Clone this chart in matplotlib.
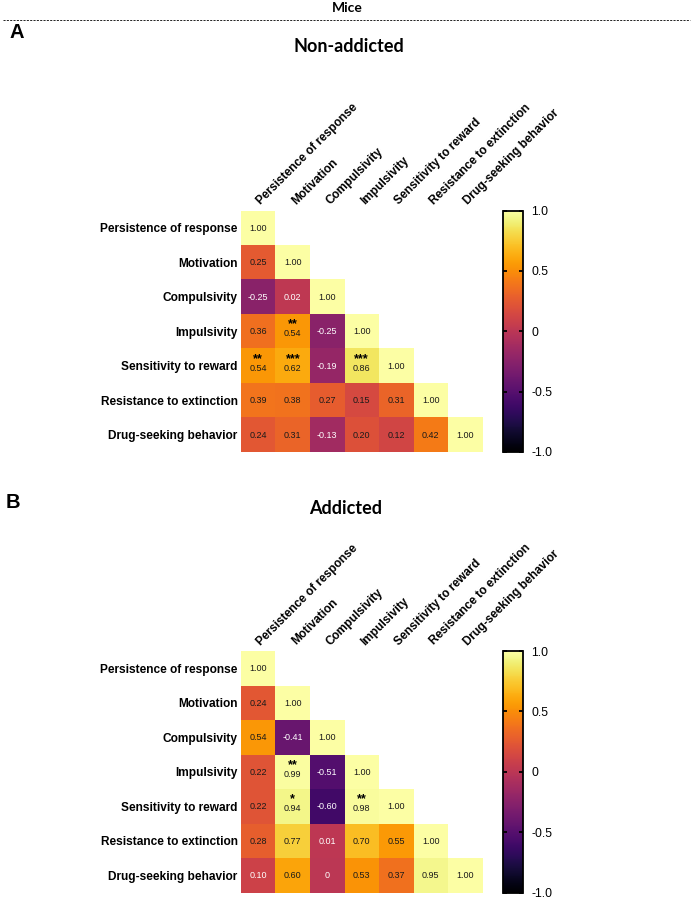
import numpy as np
import matplotlib
matplotlib.use('Agg')
import matplotlib.pyplot as plt
from matplotlib.lines import Line2D

# traits (rows / columns of both matrices)
traits = ['Persistence of response', 'Motivation', 'Compulsivity', 'Impulsivity',
          'Sensitivity to reward', 'Resistance to extinction', 'Drug-seeking behavior']

# lower triangle of the correlation matrices, row by row
nonaddicted_r = [[1.00],
                 [0.25, 1.00],
                 [-0.25, 0.02, 1.00],
                 [0.36, 0.54, -0.25, 1.00],
                 [0.54, 0.62, -0.19, 0.86, 1.00],
                 [0.39, 0.38, 0.27, 0.15, 0.31, 1.00],
                 [0.24, 0.31, -0.13, 0.20, 0.12, 0.42, 1.00]]

addicted_r = [[1.00],
              [0.24, 1.00],
              [0.54, -0.41, 1.00],
              [0.22, 0.99, -0.51, 1.00],
              [0.22, 0.94, -0.60, 0.98, 1.00],
              [0.28, 0.77, 0.01, 0.70, 0.55, 1.00],
              [0.10, 0.60, 0.00, 0.53, 0.37, 0.95, 1.00]]

# significance marks: (row, col, stars)
nonaddicted_sig = [(3, 1, '**'), (4, 0, '**'), (4, 1, '***'), (4, 3, '***')]
addicted_sig = [(3, 1, '**'), (4, 1, '*'), (4, 3, '**')]

cbar_ticks = [-1.0, -0.5, 0.0, 0.5, 1.0]
cbar_labels = ['-1.0', '-0.5', '0', '0.5', '1.0']

W, H = 692.0, 900.0
fig = plt.figure(figsize=(6.92, 9.0), dpi=100)

lab_font = 'Liberation Sans'
ttl_font = 'Lato'


def to_matrix(rows):
    n = len(rows)
    m = np.full((n, n), np.nan)
    for i, row in enumerate(rows):
        for j, v in enumerate(row):
            m[i, j] = v
    return np.ma.masked_invalid(m)


def draw_panel(rows, sig, top_px):
    n = len(traits)
    size_px = 241.5
    ax = fig.add_axes([241 / W, 1 - (top_px + size_px) / H, size_px / W, size_px / H])
    cax = fig.add_axes([503 / W, 1 - (top_px + size_px) / H, 20 / W, size_px / H])

    mat = to_matrix(rows)
    im = ax.imshow(mat, cmap='inferno', vmin=-1, vmax=1, aspect='auto')

    starred = set((i, j) for i, j, s in sig)
    for i, row in enumerate(rows):
        for j, v in enumerate(row):
            txt = '0' if v == 0 else '%.2f' % v
            col = 'white' if v < 0.11 else '#1a1a1a'
            dy = 0.07 if (i, j) in starred else 0.02
            ax.text(j, i + dy, txt, ha='center', va='center', fontsize=6.5,
                    color=col, family=lab_font)
    for i, j, s in sig:
        ax.text(j, i - 0.2, s, ha='center', va='center', fontsize=9,
                fontweight='bold', color='black', family=lab_font)

    ax.set_xlim(-0.5, n - 0.5)
    ax.set_ylim(n - 0.5, -0.5)
    ax.set_xticks([])
    ax.set_yticks(range(n))
    ax.set_yticklabels(traits, fontsize=8.6, fontweight='bold', family=lab_font)
    ax.tick_params(axis='y', length=0, pad=2.5)
    for sp in ax.spines.values():
        sp.set_visible(False)

    for j, t in enumerate(traits):
        ax.text(j + 0.15, -0.6, t, rotation=45, rotation_mode='anchor',
                ha='left', va='bottom', fontsize=8.6, fontweight='bold',
                family=lab_font)

    cb = fig.colorbar(im, cax=cax, ticks=cbar_ticks)
    cb.ax.set_yticklabels(cbar_labels, fontsize=8.8, family=lab_font)
    cb.outline.set_linewidth(1.3)
    cax.tick_params(axis='y', left=True, right=True, direction='in', length=3,
                    width=1.3, pad=6)
    return ax


# header
fig.text(347 / W, 1 - 8 / H, 'Mice', ha='center', va='center', fontsize=10,
         fontweight='bold', family=ttl_font)
fig.add_artist(Line2D([3 / W, 690 / W], [1 - 20 / H, 1 - 20 / H], lw=0.6,
                      color='black', ls=(0, (2.5, 1.5))))

# panel A
fig.text(17 / W, 1 - 32 / H, 'A', ha='center', va='center', fontsize=14.5,
         fontweight='bold', family=lab_font)
fig.text(349 / W, 1 - 46 / H, 'Non-addicted', ha='center', va='center',
         fontsize=13, fontweight='bold', family=ttl_font)
draw_panel(nonaddicted_r, nonaddicted_sig, 210.5)

# panel B
fig.text(13 / W, 1 - 502 / H, 'B', ha='center', va='center', fontsize=14.5,
         fontweight='bold', family=lab_font)
fig.text(346 / W, 1 - 508 / H, 'Addicted', ha='center', va='center',
         fontsize=13, fontweight='bold', family=ttl_font)
draw_panel(addicted_r, addicted_sig, 651)

fig.savefig('out.png', dpi=100)
